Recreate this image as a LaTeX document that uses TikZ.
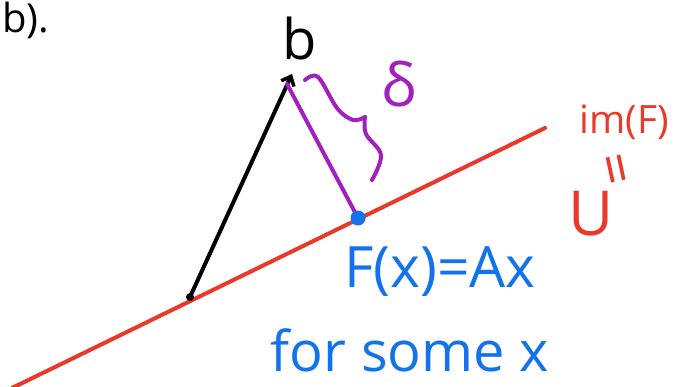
\documentclass[tikz,border=0pt]{standalone}
\usepackage{fontspec}
\setmainfont{Open Sans}
\usetikzlibrary{arrows.meta}
\definecolor{inkred}{HTML}{E8392A}
\definecolor{inkblue}{HTML}{1273EB}
\definecolor{inkpurple}{HTML}{A020C0}
\begin{document}
\begin{tikzpicture}[x=1pt,y=-1pt,
  stroke/.style={line width=4pt,line cap=round,line join=round},
  handtext/.style={inner sep=0pt,font=\fontsize{#1}{#1}\selectfont}]
\useasboundingbox (0,0) rectangle (676,386);
\clip (0,0) rectangle (676,386);
% points
\coordinate (lineA) at (12,388);
\coordinate (lineB) at (545,128);
\coordinate (tail) at (190,297);
\coordinate (tip) at (292,74);
\coordinate (foot) at (358,218);
\coordinate (top) at (287,84);
% red line im(F)
\draw[stroke,inkred] (lineA) -- (lineB);
% black vector b
\draw[stroke,black,-{Straight Barb[length=8pt,width=14pt,line width=3.5pt]}] (tail) -- (tip);
\fill[black] (tail) circle (4pt);
% purple distance
\draw[stroke,inkpurple] (top) -- (foot);
\draw[stroke,inkpurple] plot[smooth,tension=0.6] coordinates {(305,80) (318,77) (337,108) (353,120) (365,117)};
\draw[stroke,inkpurple] plot[smooth,tension=0.6] coordinates {(365,117) (366,134) (381,155) (372,180)};
% blue point
\fill[inkblue] (foot) circle (7.5pt);
% labels
\node[handtext=56] (lb) at (300,38) {b};
\node[handtext=60,text=inkpurple] (ldelta) at (399,84) {δ};
\node[handtext=57,text=inkblue] (lfx) at (440,272) {F(x)=Ax};
\node[handtext=56,text=inkblue] (lsome) at (410,350) {for some x};
\node[handtext=39,text=inkred] (lim) at (624,122) {im(F)};
\node[handtext=56,text=inkred,rotate=-78] (leq) at (610,170) {=};
\node[handtext=62,text=inkred] (lU) at (591,214) {U};
\node[handtext=40,anchor=base west] (lpart) at (2,32) {b).};
\end{tikzpicture}
\end{document}
